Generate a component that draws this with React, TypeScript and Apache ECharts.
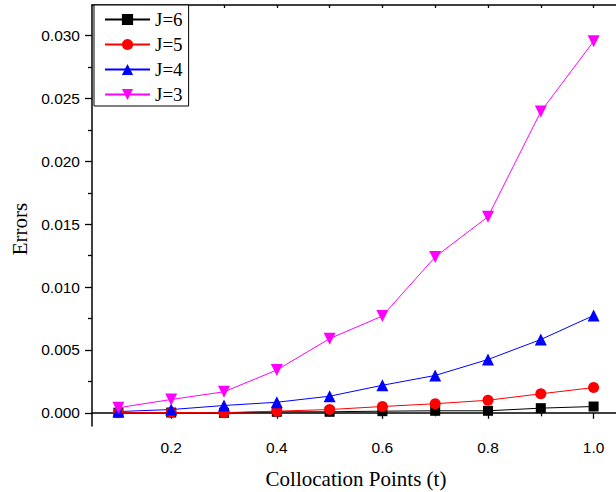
import React, { useEffect, useRef } from "react";
import * as echarts from "echarts";

const tValues = [0.1, 0.2, 0.3, 0.4, 0.5, 0.6, 0.7, 0.8, 0.9, 1.0];
const errJ6 = [0.00001, 0.00002, 0.0, 0.00008, 0.00008, 0.00013, 0.00016, 0.00016, 0.00037, 0.0005];
const errJ5 = [0.00001, 0.00002, 0.00001, 0.00013, 0.00026, 0.0005, 0.00072, 0.001, 0.00151, 0.00201];
const errJ4 = [0.0001, 0.00026, 0.00058, 0.00084, 0.00132, 0.00219, 0.00297, 0.00424, 0.00583, 0.00774];
const errJ3 = [0.0004, 0.00106, 0.00167, 0.0034, 0.0059, 0.0077, 0.0124, 0.0156, 0.02396, 0.02955];

const xMajorTicks = [0.2, 0.4, 0.6, 0.8, 1.0];
const xMinorTicks = [0.1, 0.3, 0.5, 0.7, 0.9];
const xTopTicks = [0.1, 0.2, 0.3, 0.4, 0.5, 0.6, 0.7, 0.8, 0.9, 1.0];
const yMajorTicks = [0, 0.005, 0.01, 0.015, 0.02, 0.025, 0.03];
const yMinorTicks = [0.0025, 0.0075, 0.0125, 0.0175, 0.0225, 0.0275];

const xTitle = "Collocation Points (t)";
const yTitle = "Errors";

const X_MIN = 0.05;
const X_MAX = 1.05;
const Y_MIN = -0.00105;
const Y_MAX = 0.03244;

const SERIF = "'Liberation Serif', 'Times New Roman', serif";
const SANS = "'Liberation Sans', Arial, sans-serif";

export default function App() {
  const ref = useRef<HTMLDivElement>(null);
  useEffect(() => {
    if (!ref.current) return;
    const chart = echarts.init(ref.current, null, { renderer: "svg" });
    const axisLine = { show: true, lineStyle: { color: "#000", width: 1.5 } };
    const mk = (name: string, data: number[], color: string, symbol: string, size: number, rotate = 0) => ({
      name,
      type: "line",
      data: tValues.map((t, i) => [t, data[i]]),
      symbol,
      symbolSize: size,
      symbolRotate: rotate,
      itemStyle: { color },
      lineStyle: { color, width: 1 },
      xAxisIndex: 0,
      yAxisIndex: 0,
    });
    chart.setOption({
      animation: false,
      backgroundColor: "#fff",
      grid: { left: 92, right: -4, top: 5, bottom: 66, containLabel: false, outerBoundsMode: "none" },
      legend: {
        left: 94,
        top: 5,
        orient: "vertical",
        backgroundColor: "#fff",
        borderColor: "#000",
        borderWidth: 1,
        borderRadius: 0,
        padding: [5, 6, 2, 10],
        itemWidth: 45,
        itemHeight: 14,
        itemGap: 6,
        textStyle: { fontFamily: SERIF, fontSize: 19, lineHeight: 19, color: "#000" },
        data: ["J=6", "J=5", "J=4", "J=3"],
      },
      graphic: [
        {
          type: "text",
          x: 19.5,
          y: 229,
          rotation: Math.PI / 2,
          style: {
            text: yTitle,
            fontFamily: SERIF,
            fontSize: 21,
            fill: "#000",
            align: "center",
            verticalAlign: "middle",
          },
        },
        {
          type: "text",
          x: 356,
          y: 479,
          style: {
            text: xTitle,
            fontFamily: SERIF,
            fontSize: 21,
            fill: "#000",
            align: "center",
            verticalAlign: "middle",
          },
        },
      ],
      xAxis: [
        {
          type: "value",
          min: X_MIN,
          max: X_MAX,
          position: "bottom",
          axisLine,
          axisTick: { show: true, inside: false, length: 6, customValues: xMajorTicks, lineStyle: { color: "#000", width: 1.3 } },
          axisLabel: {
            show: true,
            customValues: xMajorTicks,
            margin: 13,
            fontFamily: SANS,
            fontSize: 15.5,
            color: "#000",
            formatter: (v: number) => v.toFixed(1),
          },
          splitLine: { show: false },
        },
        {
          type: "value",
          min: X_MIN,
          max: X_MAX,
          position: "bottom",
          axisLine: { show: false },
          axisTick: { show: true, inside: false, length: 3.5, customValues: xMinorTicks, lineStyle: { color: "#000", width: 1.3 } },
          axisLabel: { show: false },
          splitLine: { show: false },
        },
        {
          type: "value",
          min: X_MIN,
          max: X_MAX,
          position: "top",
          axisLine,
          axisTick: { show: true, inside: true, length: 3, customValues: xTopTicks, lineStyle: { color: "#000", width: 1.3 } },
          axisLabel: { show: false },
          splitLine: { show: false },
        },
      ],
      yAxis: [
        {
          type: "value",
          min: Y_MIN,
          max: Y_MAX,
          position: "left",
          axisLine,
          axisTick: { show: true, inside: false, length: 7, customValues: yMajorTicks, lineStyle: { color: "#000", width: 1.3 } },
          axisLabel: {
            show: true,
            customValues: yMajorTicks,
            margin: 12,
            fontFamily: SANS,
            fontSize: 15.5,
            color: "#000",
            formatter: (v: number) => v.toFixed(3),
          },
          splitLine: { show: false },
        },
        {
          type: "value",
          min: Y_MIN,
          max: Y_MAX,
          position: "left",
          axisLine: { show: false },
          axisTick: { show: true, inside: false, length: 4, customValues: yMinorTicks, lineStyle: { color: "#000", width: 1.3 } },
          axisLabel: { show: false },
          splitLine: { show: false },
        },
      ],
      series: [
        mk("J=6", errJ6, "#000000", "rect", 10),
        mk("J=5", errJ5, "#ff0000", "circle", 11),
        mk("J=4", errJ4, "#0000ff", "triangle", 12),
        mk("J=3", errJ3, "#ff00ff", "triangle", 12, 180),
      ],
    });
    return () => chart.dispose();
  }, []);
  return (
    <div
      ref={ref}
      style={{ position: "fixed", left: 0, top: 0, width: 616, height: 492, background: "#fff" }}
    />
  );
}
